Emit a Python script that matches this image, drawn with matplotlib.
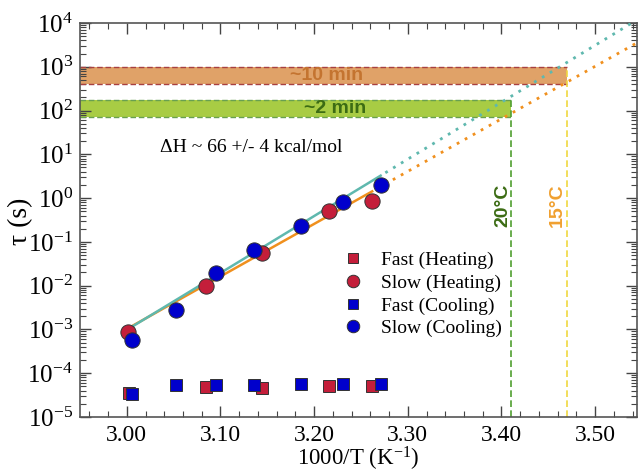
import numpy as np
import matplotlib
matplotlib.use("Agg")
import matplotlib.pyplot as plt
from matplotlib.lines import Line2D
from matplotlib.ticker import MultipleLocator, LogLocator, NullFormatter

plt.rcParams['font.family'] = ['Liberation Serif', 'DejaVu Serif']
plt.rcParams['mathtext.fontset'] = 'custom'
plt.rcParams['mathtext.rm'] = 'Liberation Serif'
plt.rcParams['mathtext.it'] = 'Liberation Serif:italic'

# ---- data ----
slow_heat_x = [3.001, 3.085, 3.144, 3.216, 3.262]
slow_heat_y = [8.9e-4, 1.0e-2, 5.6e-2, 0.51, 0.87]
slow_cool_x = [3.005, 3.053, 3.095, 3.136, 3.186, 3.231, 3.271]
slow_cool_y = [5.8e-4, 2.8e-3, 1.95e-2, 6.6e-2, 0.23, 0.81, 2.0]
fast_heat_x = [3.002, 3.085, 3.144, 3.216, 3.262]
fast_heat_y = [3.6e-5, 4.9e-5, 4.6e-5, 5.1e-5, 5.2e-5]
fast_cool_x = [3.005, 3.053, 3.095, 3.136, 3.186, 3.231, 3.271]
fast_cool_y = [3.4e-5, 5.4e-5, 5.4e-5, 5.4e-5, 5.7e-5, 5.7e-5, 5.7e-5]

# Arrhenius fits: log10(tau) = a + b*(x - 3)
fit_heat = (-2.99, 12.0)
fit_cool = (-3.01, 13.0)
fit_heat_solid = (3.001, 3.262)
fit_cool_solid = (3.004, 3.271)
fit_x_end = 3.545

band_10min = (400, 1000)
band_2min = (72, 174)
x_20C = 3.41
x_15C = 3.47

xlim = (2.95, 3.545)
ylim = (1e-5, 1e4)

red = '#c41e3a'
blue = '#0000cc'
teal = '#5fb8ae'
orange = '#f0901e'

fig = plt.figure(figsize=(6.42, 4.74), dpi=100)
ax = fig.add_axes([0.1246, 0.1203, 0.868, 0.8312])
ax.set_yscale('log')
ax.set_xlim(*xlim)
ax.set_ylim(*ylim)

# bands
ax.fill_between([xlim[0], x_15C], band_10min[0], band_10min[1], color='#e0a268', lw=0, zorder=1)
ax.fill_between([xlim[0], x_20C], band_2min[0], band_2min[1], color='#a8cc44', lw=0, zorder=1)
for yv in band_10min:
    ax.plot([xlim[0], x_15C], [yv, yv], ls=(0, (4, 2)), color='#a84040', lw=1.0, zorder=2)
for yv in band_2min:
    ax.plot([xlim[0], x_20C], [yv, yv], ls=(0, (4, 2)), color='#68a050', lw=1.0, zorder=2)
ax.plot([x_20C, x_20C], [ylim[0], band_2min[1]], ls=(0, (4, 2)), color='#50a030', lw=1.2, zorder=2)
ax.plot([x_15C, x_15C], [ylim[0], band_10min[1]], ls=(0, (4, 2)), color='#f0d840', lw=1.2, zorder=2)

ax.text(3.213, 10**2.8, '~10 min', family=['Liberation Sans', 'DejaVu Sans'], fontweight='bold',
        fontsize=14, color='#c47430', ha='center', va='center', zorder=3)
ax.text(3.222, 10**2.05, '~2 min', family=['Liberation Sans', 'DejaVu Sans'], fontweight='bold',
        fontsize=14, color='#3c6c14', ha='center', va='center', zorder=3)
ax.text(3.402, 10**-0.155, '20°C', family=['Liberation Sans', 'DejaVu Sans'], fontweight='bold',
        fontsize=14, color='#3c6c14', ha='center', va='center', rotation=90, zorder=3)
ax.text(3.46, 10**-0.155, '15°C', family=['Liberation Sans', 'DejaVu Sans'], fontweight='bold',
        fontsize=14, color='#f0a030', ha='center', va='center', rotation=90, zorder=3)
ax.text(3.035, 10**1.15, 'ΔH ~ 66 +/- 4 kcal/mol', fontsize=14, ha='left', va='center', zorder=3)

# fit lines
def fit_line(p, x0, x1):
    xs = np.array([x0, x1])
    return xs, 10 ** (p[0] + p[1] * (xs - 3.0))

dot = (0, (1, 2.3))
xs, ys = fit_line(fit_heat, *fit_heat_solid)
ax.plot(xs, ys, color=orange, lw=1.8, zorder=4)
xs, ys = fit_line(fit_heat, fit_heat_solid[1] + 0.005, fit_x_end)
ax.plot(xs, ys, color=orange, lw=2.0, ls=dot, zorder=4)
xs, ys = fit_line(fit_cool, *fit_cool_solid)
ax.plot(xs, ys, color=teal, lw=1.8, zorder=4)
xs, ys = fit_line(fit_cool, fit_cool_solid[1] + 0.005, fit_x_end)
ax.plot(xs, ys, color=teal, lw=2.0, ls=dot, zorder=4)

# points
mk = dict(ls='none', markeredgecolor='#333333', markeredgewidth=0.7, zorder=5)
ax.plot(slow_heat_x, slow_heat_y, 'o', color=red, ms=11, **mk)
ax.plot(slow_cool_x, slow_cool_y, 'o', color=blue, ms=11, **mk)
ax.plot(fast_heat_x, fast_heat_y, 's', color=red, ms=8, **mk)
ax.plot(fast_cool_x, fast_cool_y, 's', color=blue, ms=8, **mk)

handles = [
    Line2D([], [], marker='s', color=red, ms=7, **mk),
    Line2D([], [], marker='o', color=red, ms=9, **mk),
    Line2D([], [], marker='s', color=blue, ms=7, **mk),
    Line2D([], [], marker='o', color=blue, ms=9, **mk),
]
labels = ['Fast (Heating)', 'Slow (Heating)', 'Fast (Cooling)', 'Slow (Cooling)']
ax.legend(handles, labels, loc='upper left', bbox_to_anchor=(0.455, 0.445), frameon=False,
          fontsize=14, handlelength=1.0, handletextpad=0.95, labelspacing=0.26, borderpad=0)

# axes styling
ax.xaxis.set_major_locator(MultipleLocator(0.1))
ax.xaxis.set_minor_locator(MultipleLocator(0.02))
ax.xaxis.set_major_formatter(matplotlib.ticker.FormatStrFormatter('%.2f'))
ax.yaxis.set_major_locator(LogLocator(base=10, numticks=20))
ax.yaxis.set_minor_locator(LogLocator(base=10, subs=np.arange(2, 10), numticks=20))
ax.yaxis.set_minor_formatter(NullFormatter())
ax.tick_params(which='both', direction='in', top=True, right=True, colors='#444444',
               labelcolor='black')
ax.tick_params(axis='x', labelsize=17, pad=6)
ax.tick_params(axis='y', labelsize=18, pad=5)
ax.tick_params(which='major', length=8, width=1.0)
ax.tick_params(which='minor', length=4, width=0.8)
for s in ax.spines.values():
    s.set_color('#555555')
    s.set_linewidth(1.2)

ax.set_xlabel('1000/T (K$^{-1}$)', fontsize=16.5, labelpad=-1)
ax.set_ylabel('τ (s)', fontsize=20)
ax.yaxis.set_label_coords(-0.085, 0.497)

fig.savefig('out.png', dpi=100)
